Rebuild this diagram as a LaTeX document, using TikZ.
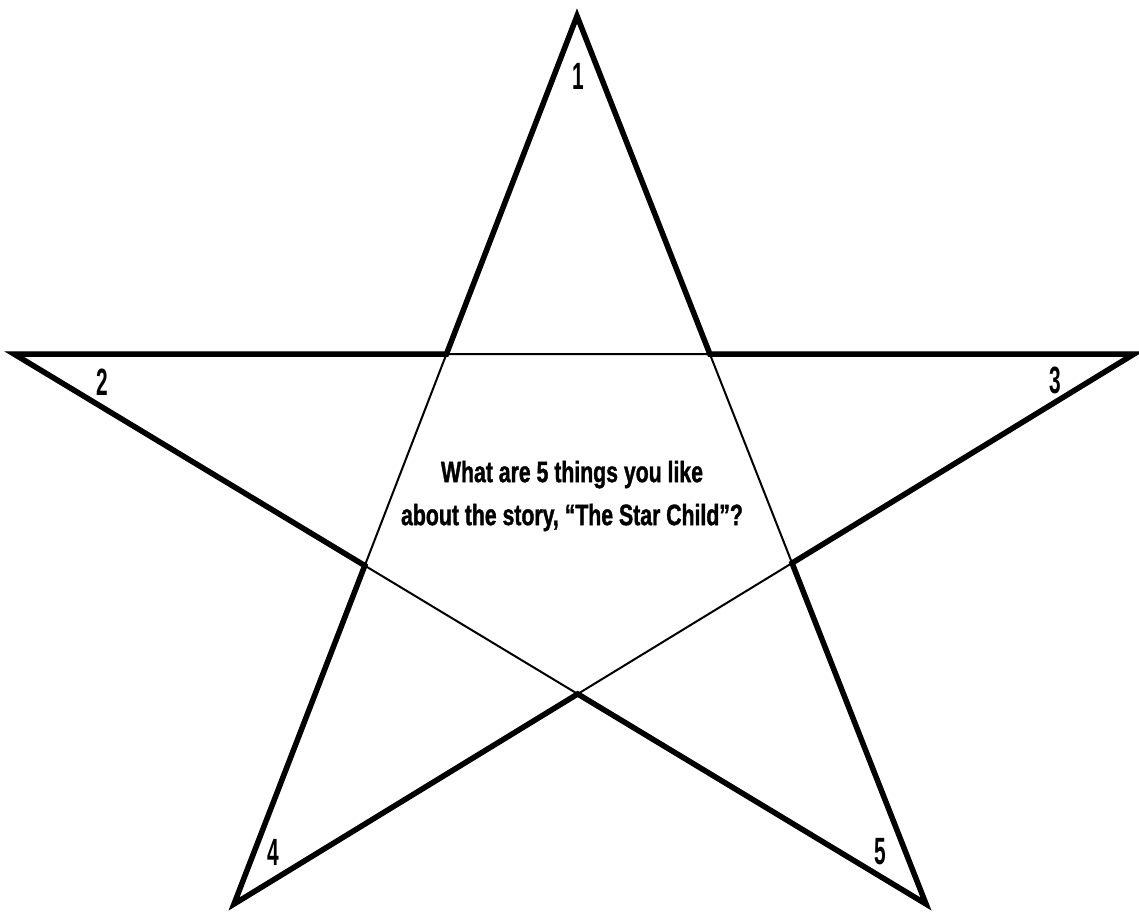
\documentclass[tikz,border=0pt]{standalone}
\usepackage{fontspec}
\setmainfont{Liberation Sans}
\newfontfamily\qfont[FakeStretch=0.72,FakeBold=1.2]{Liberation Sans}
\newfontfamily\nfont[FakeStretch=0.55]{Liberation Sans}
\begin{document}
\begin{tikzpicture}[x=1pt,y=-1pt,
  thickedge/.style={line width=5.5pt,line join=miter,black},
  shadowedge/.style={line width=5pt,line join=miter,black!30},
  thinedge/.style={line width=2pt,black},
  question/.style={font=\qfont\bfseries\fontsize{29.5}{43}\selectfont,align=center},
  num/.style={font=\nfont\bfseries\fontsize{38}{38}\selectfont,inner sep=0pt}]
\useasboundingbox[fill=white] (0,0) rectangle (1139,913);
\coordinate (T) at (577,16);
\coordinate (L) at (14,354);
\coordinate (R) at (1134,354);
\coordinate (BL) at (234,904);
\coordinate (BR) at (926,904);
\coordinate (A) at (intersection of T--BL and L--R);
\coordinate (B) at (intersection of T--BR and L--R);
\coordinate (C) at (intersection of T--BL and L--BR);
\coordinate (D) at (intersection of T--BR and R--BL);
\coordinate (E) at (intersection of L--BR and R--BL);
\begin{scope}[shift={(2.5,3.5)}]
\draw[shadowedge] (T) -- (A) -- (L) -- (C) -- (BL) -- (E) -- (BR) -- (D) -- (R) -- (B) -- cycle;
\end{scope}
\draw[thickedge] (T) -- (A) -- (L) -- (C) -- (BL) -- (E) -- (BR) -- (D) -- (R) -- (B) -- cycle;
\draw[thinedge] (A) -- (B) -- (D) -- (E) -- (C) -- cycle;
\node[question] (q) at (572,496) {What are 5 things you like\\about the story, “The Star Child”?};
\node[num] (n1) at (578,76) {1};
\node[num] (n2) at (102,382) {2};
\node[num] (n3) at (1055,380) {3};
\node[num] (n4) at (273,852) {4};
\node[num] (n5) at (880,852) {5};
\end{tikzpicture}
\end{document}
